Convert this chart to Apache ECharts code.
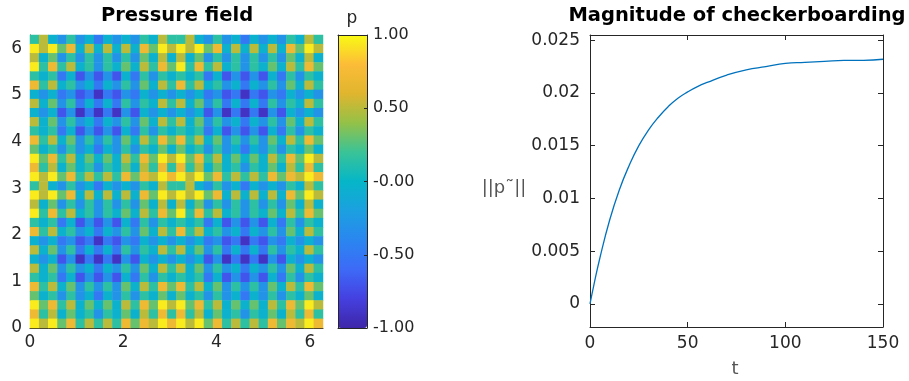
<!DOCTYPE html>
<html>
<head>
<meta charset="utf-8">
<script src="https://cdn.jsdelivr.net/npm/echarts@6/dist/echarts.min.js"></script>
<style>
html, body { margin: 0; padding: 0; background: #fff; }
#chart { width: 909px; height: 381px; }
</style>
</head>
<body>
<div id="chart"></div>
<script>
// pressure field, 32 x 32 cells
// rows go from the top (y = 2pi) down to y = 0, one digit per cell = colour level below
const pLevels = [-0.9, -0.7, -0.5, -0.3, -0.05, 0.15, 0.3, 0.5, 0.7, 0.95]
const pRows = [
    '57435342434354755743534243435475',
    '97968474747486979796847474748697',
    '74635353535364747463535353536474',
    '95857453546475869585745354647586',
    '54524131314253545452413131425354',
    '85745342435364758574534243536475',
    '43423120213243434342312021324343',
    '74635242425354757463524242535475',
    '43413020203143434341302020314343',
    '74635342435364757463534243536475',
    '54524131314253545452413131425354',
    '85746353536475868574635353647586',
    '64535342435354646453534243535464',
    '96857464647586979685746464758697',
    '85746453546475858574645354647585',
    '97968575758687989796857575868798',
    '57435342434354755743534243435475',
    '97968474747486979796847474748697',
    '74635353535364747463535353536474',
    '95857453546475869585745354647586',
    '54524131314253545452413131425354',
    '85745342435364758574534243536475',
    '43423120213243434342312021324343',
    '74635242425354757463524242535475',
    '43413020203143434341302020314343',
    '74635342435364757463534243536475',
    '54524131314253545452413131425354',
    '85746353536475868574635353647586',
    '64535342435354646453534243535464',
    '96857464647586979685746464758697',
    '85746453546475858574645354647585',
    '97968575758687989796857575868798'
]
const fieldXTicks = [0, 2, 4, 6]
const fieldYTicks = [0, 1, 2, 3, 4, 5, 6]
const barTicks = [-1, -0.5, 0, 0.5, 1]
const barLabels = ['-1.00', '-0.50', '-0.00', '0.50', '1.00']

// magnitude of checkerboarding over time
const tValues = [0, 2, 5, 10, 15, 20, 25, 30, 35, 40, 45, 50, 55, 60, 70, 80, 90, 100, 110, 120, 130, 140, 150]
const normValues = [0, 0.0018, 0.0043, 0.0079, 0.0108, 0.0131, 0.0150, 0.0165, 0.0177, 0.0187, 0.0195, 0.0201,
    0.0206, 0.0210, 0.0217, 0.0222, 0.0225, 0.0228, 0.0229, 0.0230, 0.0231, 0.0231, 0.0232]
const tTicks = [0, 50, 100, 150]
const normTicks = [0, 0.005, 0.01, 0.015, 0.02, 0.025]

const parula = ['#3e26a8', '#4540e0', '#3d6af7', '#2a86f0', '#1ca0e0', '#06b6c8',
    '#3ac397', '#94c148', '#e0b52e', '#fcbc38', '#f9fb14']

const ink = '#262626'
const font = 'DejaVu Sans'

const heatData = []
pRows.forEach((row, r) => {
    for (let c = 0; c < row.length; c++) {
        heatData.push([c, pRows.length - 1 - r, pLevels[+row[c]]])
    }
})
const cells = pRows[0].split('').map((_, i) => i)

const tickLabel = { color: ink, fontFamily: font, fontSize: 17 }
const frame = { show: true, onZero: false, lineStyle: { color: ink, width: 1 } }
const bare = { axisTick: { show: false }, axisLabel: { show: false }, splitLine: { show: false } }

const chart = echarts.init(document.getElementById('chart'))
chart.setOption({
    animation: false,
    backgroundColor: '#fff',
    grid: [
        { left: 30, top: 35, width: 293, height: 293 },
        { left: 30, top: 35, width: 293, height: 293 },
        { left: 338, top: 35, width: 29, height: 293 },
        { left: 590, top: 35, width: 293, height: 292 }
    ],
    xAxis: [
        { gridIndex: 0, type: 'category', data: cells, show: false },
        {
            gridIndex: 1, type: 'value', min: 0, max: 2 * Math.PI, position: 'bottom',
            axisLine: frame, splitLine: { show: false },
            axisTick: { inside: true, length: 4, customValues: fieldXTicks, lineStyle: { color: ink } },
            axisLabel: { ...tickLabel, margin: 6, customValues: fieldXTicks }
        },
        { gridIndex: 2, type: 'value', min: 0, max: 1, position: 'bottom', z: 10, axisLine: frame, ...bare },
        { gridIndex: 2, type: 'value', min: 0, max: 1, position: 'top', z: 10, axisLine: frame, ...bare },
        {
            gridIndex: 3, type: 'value', min: 0, max: 150, position: 'bottom',
            axisLine: frame, splitLine: { show: false },
            axisTick: { inside: true, length: 5, customValues: tTicks, lineStyle: { color: ink } },
            axisLabel: { ...tickLabel, margin: 8, customValues: tTicks }
        },
        {
            gridIndex: 3, type: 'value', min: 0, max: 150, position: 'top',
            axisLine: frame, splitLine: { show: false },
            axisTick: { inside: true, length: 5, customValues: tTicks, lineStyle: { color: ink } },
            axisLabel: { show: false }
        }
    ],
    yAxis: [
        { gridIndex: 0, type: 'category', data: cells, show: false },
        {
            gridIndex: 1, type: 'value', min: 0, max: 2 * Math.PI, position: 'left',
            axisLine: frame, splitLine: { show: false },
            axisTick: { inside: true, length: 4, customValues: fieldYTicks, lineStyle: { color: ink } },
            axisLabel: { ...tickLabel, margin: 8, customValues: fieldYTicks }
        },
        { gridIndex: 2, type: 'value', min: -1, max: 1, position: 'left', z: 10, axisLine: frame, ...bare },
        {
            gridIndex: 2, type: 'value', min: -1, max: 1, position: 'right', z: 10,
            axisLine: frame, splitLine: { show: false },
            axisTick: { inside: true, length: 3, customValues: barTicks, lineStyle: { color: ink } },
            axisLabel: {
                ...tickLabel, fontSize: 16, margin: 6, customValues: barTicks,
                formatter: v => barLabels[barTicks.indexOf(v)]
            }
        },
        {
            gridIndex: 3, type: 'value', min: -0.0022, max: 0.0255, position: 'left',
            axisLine: frame, splitLine: { show: false },
            axisTick: { inside: true, length: 5, customValues: normTicks, lineStyle: { color: ink } },
            axisLabel: { ...tickLabel, margin: 10, customValues: normTicks, formatter: v => String(+v.toFixed(3)) }
        },
        {
            gridIndex: 3, type: 'value', min: -0.0022, max: 0.0255, position: 'right',
            axisLine: frame, splitLine: { show: false },
            axisTick: { inside: true, length: 5, customValues: normTicks, lineStyle: { color: ink } },
            axisLabel: { show: false }
        }
    ],
    visualMap: {
        type: 'continuous', min: -1, max: 1, seriesIndex: 0,
        calculable: false, hoverLink: false, orient: 'vertical',
        left: 338, top: 35, itemWidth: 29, itemHeight: 293, padding: 0, z: 1,
        inRange: { color: parula }
    },
    graphic: [
        { type: 'text', x: 177, y: 16, style: { text: 'Pressure field', fontFamily: font, fontSize: 19.5, fontWeight: 'bold', fill: '#000', textAlign: 'center', textVerticalAlign: 'middle' } },
        { type: 'text', x: 737, y: 16, style: { text: 'Magnitude of checkerboarding', fontFamily: font, fontSize: 19.5, fontWeight: 'bold', fill: '#000', textAlign: 'center', textVerticalAlign: 'middle' } },
        { type: 'text', x: 352, y: 19, style: { text: 'p', fontFamily: font, fontSize: 17, fill: ink, textAlign: 'center', textVerticalAlign: 'middle' } },
        { type: 'text', x: 504, y: 188, style: { text: '||p\u02dc||', fontFamily: font, fontSize: 18, fill: '#555', textAlign: 'center', textVerticalAlign: 'middle' } },
        { type: 'text', x: 735, y: 369, style: { text: 't', fontFamily: font, fontSize: 18, fill: '#555', textAlign: 'center', textVerticalAlign: 'middle' } }
    ],
    series: [
        {
            type: 'heatmap', xAxisIndex: 0, yAxisIndex: 0,
            data: heatData, progressive: 0,
            emphasis: { disabled: true }
        },
        {
            type: 'line', xAxisIndex: 4, yAxisIndex: 4,
            data: tValues.map((t, i) => [t, normValues[i]]),
            smooth: true, showSymbol: false,
            lineStyle: { color: '#0072bd', width: 1.3 }
        }
    ]
})
</script>
</body>
</html>
